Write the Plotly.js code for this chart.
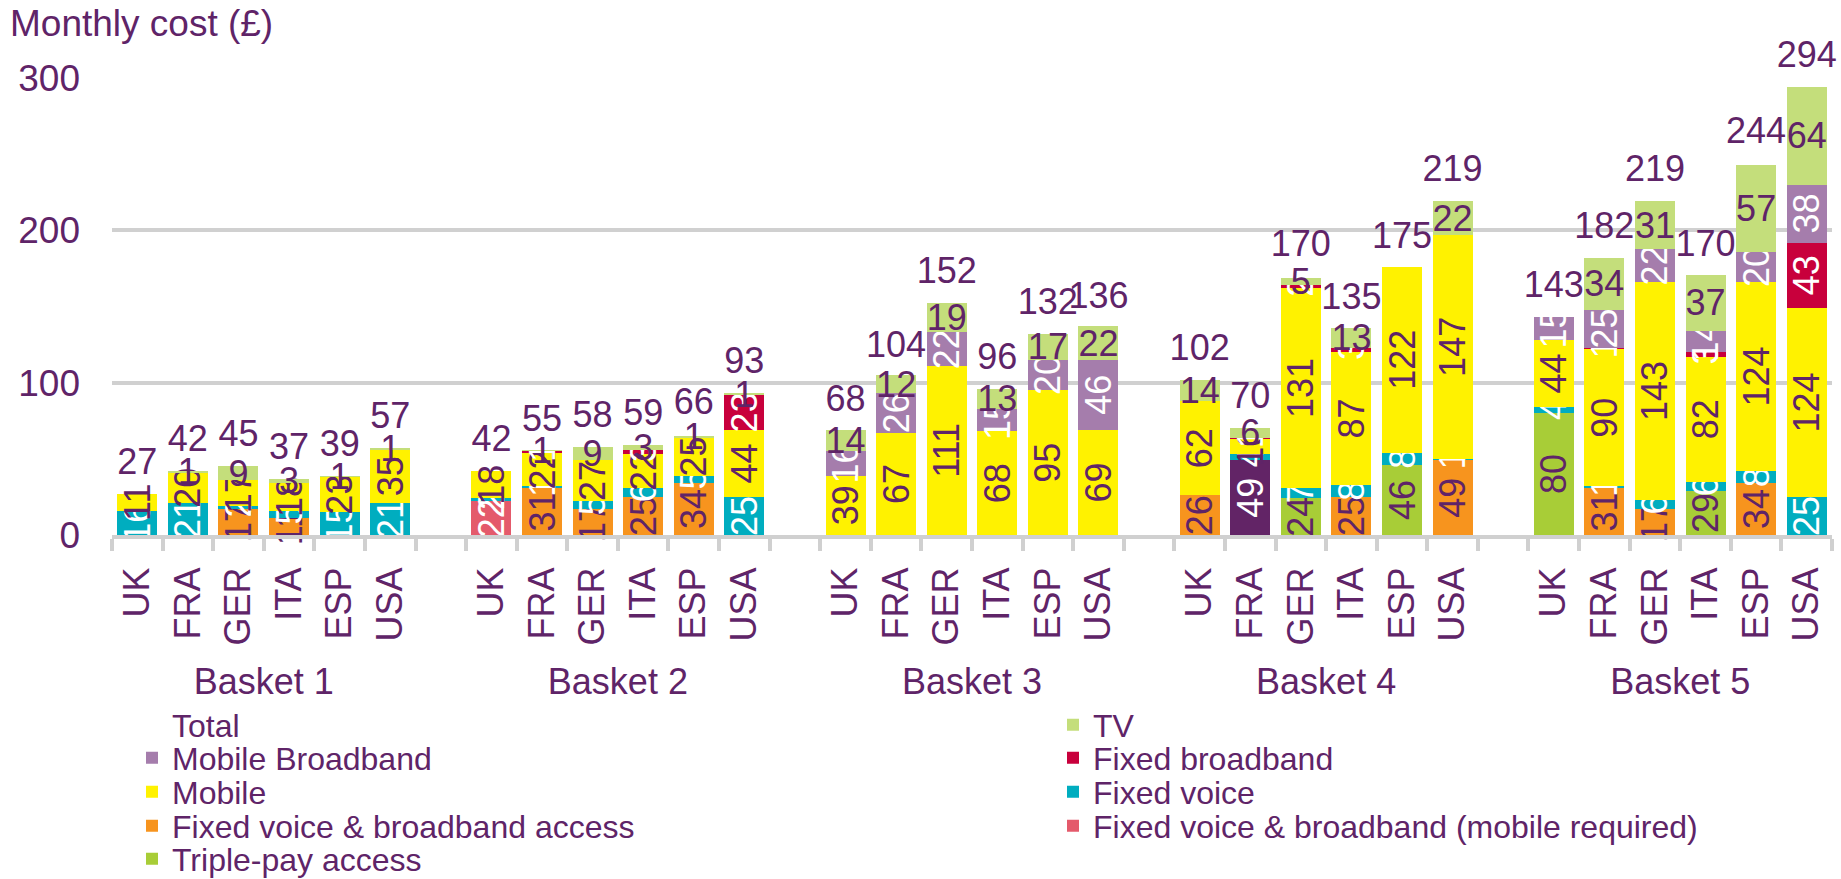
<!DOCTYPE html>
<html><head><meta charset="utf-8">
<script src="https://cdn.plot.ly/plotly-3.0.1.min.js"></script>
<style>html,body{margin:0;padding:0;background:#fff}#chart{width:1841px;height:879px}</style>
</head><body><div id="chart"></div>
<script>
// ---------- data ----------
const baskets = ['Basket 1', 'Basket 2', 'Basket 3', 'Basket 4', 'Basket 5'];
const countries = ['UK', 'FRA', 'GER', 'ITA', 'ESP', 'USA'];

// each series: 30 values, Basket 1 (UK..USA), Basket 2 ..., Basket 5
const tv              = [0,1,9,3,1,1,   0,1,9,3,1,1,   14,12,19,13,17,22,   14,6,5,13,0,22,   0,34,31,37,57,64];
const mobileBroadband = [0,0,0,0,0,0,   0,0,0,0,0,0,   16,26,22,15,20,46,   0,0,0,0,0,0,      15,25,22,14,20,38];
const fixedBroadband  = [0,0,0,0,0,0,   0,1,0,3,0,23,  0,0,0,0,0,0,         0,1,2,3,0,0,      0,1,0,3,0,43];
const mobile          = [11,20,17,18,23,35, 18,22,27,22,25,44, 39,67,111,68,95,69, 62,10,131,87,122,147, 44,90,143,82,124,124];
const fixedVoice      = [16,21,2,5,15,21, 2,1,5,6,5,25,  0,0,0,0,0,0,         0,4,7,8,8,1,      4,1,6,6,8,25];
const fvbbAccess      = [0,0,17,11,0,0,  0,31,17,25,34,0, 0,0,0,0,0,0,        26,0,0,25,0,49,   0,31,17,0,34,0];
const fvbbMobileReq   = [0,0,0,0,0,0,   22,0,0,0,0,0,  0,0,0,0,0,0,         0,0,0,0,0,0,      0,0,0,0,0,0];
const triplePay       = [0,0,0,0,0,0,   0,0,0,0,0,0,   0,0,0,0,0,0,         0,0,24,0,46,0,    80,0,0,29,0,0];
const otherAccess     = [0,0,0,0,0,0,   0,0,0,0,0,0,   0,0,0,0,0,0,         0,49,0,0,0,0,     0,0,0,0,0,0];
const totals          = [27,42,45,37,39,57, 42,55,58,59,66,93, 68,104,152,96,132,136, 102,70,170,135,175,219, 143,182,219,170,244,294];

// ---------- styling ----------
const PURPLE = '#5f2468';
const GRID = '#d0d0d0';
const FONT = 'Liberation Sans, Arial, sans-serif';
const WHITE = '#ffffff';

const slotsPerBasket = countries.length + 1;
const xPos = [], xLab = [];
baskets.forEach((b, bi) => countries.forEach((c, ci) => { xPos.push(bi * slotsPerBasket + ci); xLab.push(c); }));
const nSlots = baskets.length * slotsPerBasket - 1;
const basketCenters = baskets.map((b, bi) => bi * slotsPerBasket + (countries.length - 1) / 2);

function barTrace(name, vals, color, txtColor, angle, legend, showlegend) {
  return {
    type: 'bar', name: name, x: xPos, y: vals,
    text: vals.map(v => v ? String(v) : ''),
    textposition: 'inside', insidetextanchor: 'middle', textangle: angle,
    constraintext: 'none', cliponaxis: false,
    insidetextfont: {family: FONT, size: 36, color: txtColor},
    marker: {color: color, line: {width: 0}},
    legend: legend, showlegend: showlegend, hoverinfo: 'name+y'
  };
}

const traces = [
  barTrace('Other access', otherAccess, '#622466', WHITE, -90, 'legend9', false),
  barTrace('Triple-pay access', triplePay, '#a8cd37', PURPLE, -90, 'legend9', true),
  barTrace('Fixed voice & broadband (mobile required)', fvbbMobileReq, '#e45a6b', WHITE, -90, 'legend8', true),
  barTrace('Fixed voice & broadband access', fvbbAccess, '#f7941e', PURPLE, -90, 'legend7', true),
  barTrace('Fixed voice', fixedVoice, '#00adbf', WHITE, -90, 'legend6', true),
  barTrace('Mobile', mobile, '#fff200', PURPLE, -90, 'legend5', true),
  barTrace('Fixed broadband', fixedBroadband, '#c8003c', WHITE, -90, 'legend4', true),
  barTrace('Mobile Broadband', mobileBroadband, '#a57dac', WHITE, -90, 'legend3', true),
  barTrace('TV', tv, '#c4de7b', PURPLE, 0, 'legend2', true),
  // legend entry for the Total series (no visible bar)
  {
    type: 'bar', name: 'Total', x: xPos, y: totals.map(() => 0),
    marker: {color: 'rgba(0,0,0,0)'}, legend: 'legend', showlegend: true, hoverinfo: 'skip'
  },
  // Total labels above each stack
  {
    type: 'scatter', mode: 'markers+text', name: 'Total', x: xPos, y: totals,
    text: totals.map(String), textposition: 'top center', cliponaxis: false,
    textfont: {family: FONT, size: 36, color: PURPLE},
    marker: {size: 16, color: 'rgba(0,0,0,0)'}, showlegend: false, hoverinfo: 'skip'
  },
  {
    type: 'scatter', mode: 'markers', x: basketCenters, y: basketCenters.map(() => null),
    xaxis: 'x2', yaxis: 'y', showlegend: false, hoverinfo: 'skip'
  }
];

// layout geometry
const W = 1841, H = 879;
const mT = 78, mB = 20, mL = 112, mR = 9;
const plotW = W - mL - mR;
const plotH = H - mT - mB;
const axisBottomPx = 535;
const yDomBottom = (H - mB - axisBottomPx) / plotH;
const py = px => (H - mB - px) / plotH;
const pxX = px => (px - mL) / plotW;

function itemLegend(textLeftPx, rowCenterPx) {
  return {
    orientation: 'v', x: pxX(textLeftPx - 41), xanchor: 'left', y: py(rowCenterPx - 1), yanchor: 'middle',
    font: {family: FONT, size: 32, color: PURPLE}, bgcolor: 'rgba(0,0,0,0)',
    itemclick: false, itemdoubleclick: false
  };
}
const colL = 173, colR = 1094;
const rows = [726, 759, 793, 827, 860];

const layout = {
  width: W, height: H,
  margin: {l: mL, r: mR, t: mT, b: mB, pad: 0, autoexpand: false},
  paper_bgcolor: '#fff', plot_bgcolor: '#fff',
  barmode: 'stack', bargap: 0.21,
  font: {family: FONT, color: PURPLE},
  title: {text: 'Monthly cost (£)', font: {family: FONT, size: 37, color: PURPLE},
          x: 10 / W, xref: 'container', xanchor: 'left', y: 1 - 23 / H, yref: 'container', yanchor: 'middle'},
  xaxis: {
    range: [-0.5, nSlots - 0.5], tickmode: 'array', tickvals: xPos, ticktext: xLab, tickangle: -90,
    ticks: '', showgrid: false, zeroline: false, showline: true, linecolor: GRID, linewidth: 4,
    tickfont: {family: FONT, size: 36, color: PURPLE}, ticklabelstandoff: 14, automargin: false,
    minor: {tickmode: 'linear', tick0: -0.5, dtick: 1, ticks: 'outside', ticklen: 12, tickwidth: 4, tickcolor: GRID, showgrid: false},
    fixedrange: true
  },
  xaxis2: {
    overlaying: 'x', anchor: 'free', position: py(657), side: 'bottom', automargin: false,
    range: [-0.5, nSlots - 0.5], tickmode: 'array', tickvals: basketCenters, ticktext: baskets,
    ticks: '', showgrid: false, showline: false, zeroline: false,
    tickfont: {family: FONT, size: 36, color: PURPLE}, fixedrange: true
  },
  yaxis: {
    domain: [yDomBottom, 1], range: [0, 300], tickmode: 'array', tickvals: [0, 100, 200, 300],
    showgrid: true, gridcolor: GRID, gridwidth: 4, zeroline: false, ticks: '', automargin: false,
    tickfont: {family: FONT, size: 37, color: PURPLE}, ticklabelstandoff: 31, fixedrange: true
  },
  legend:  itemLegend(colL, rows[0]),
  legend2: itemLegend(colR, rows[0]),
  legend3: itemLegend(colL, rows[1]),
  legend4: itemLegend(colR, rows[1]),
  legend5: itemLegend(colL, rows[2]),
  legend6: itemLegend(colR, rows[2]),
  legend7: itemLegend(colL, rows[3]),
  legend8: itemLegend(colR, rows[3]),
  legend9: itemLegend(colL, rows[4]),
  showlegend: true
};

Plotly.newPlot('chart', traces, layout, {displayModeBar: false, staticPlot: true});
</script></body></html>
